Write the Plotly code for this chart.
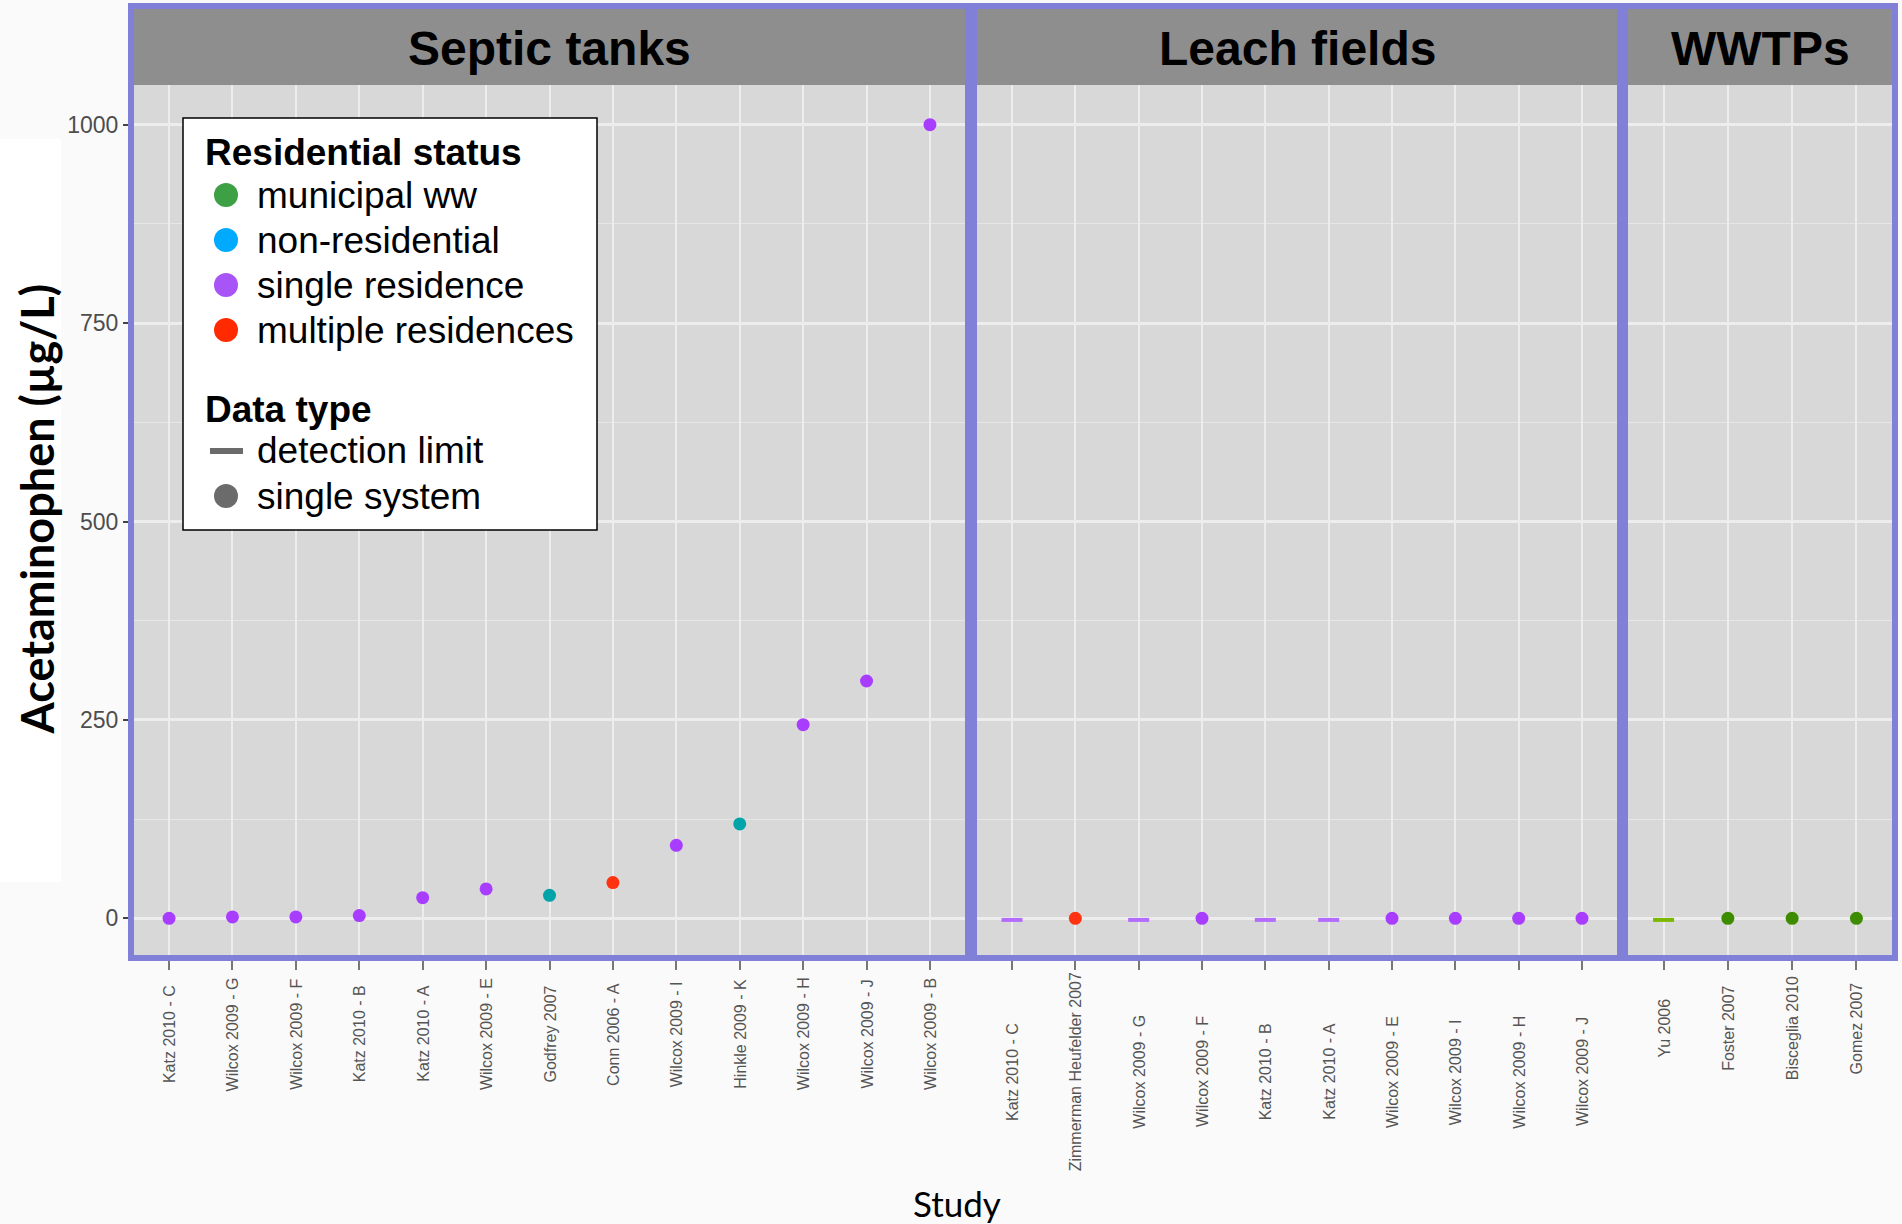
import plotly.graph_objects as go

# ---------------- data ----------------
septic_studies = ["Katz 2010 - C", "Wilcox 2009 - G", "Wilcox 2009 - F", "Katz 2010 - B",
                  "Katz 2010 - A", "Wilcox 2009 - E", "Godfrey 2007", "Conn 2006 - A",
                  "Wilcox 2009 - I", "Hinkle 2009 - K", "Wilcox 2009 - H", "Wilcox 2009 - J",
                  "Wilcox 2009 - B"]
septic_values = [0, 1.7, 1.7, 3.4, 26, 37, 29, 45, 92, 119, 244, 299, 1000]
septic_status = ["single residence"] * 6 + ["non-residential", "multiple residences",
                 "single residence", "non-residential", "single residence",
                 "single residence", "single residence"]
septic_type = ["single system"] * 13

leach_studies = ["Katz 2010 - C", "Zimmerman Heufelder 2007", "Wilcox 2009 - G",
                 "Wilcox 2009 - F", "Katz 2010 - B", "Katz 2010 - A", "Wilcox 2009 - E",
                 "Wilcox 2009 - I", "Wilcox 2009 - H", "Wilcox 2009 - J"]
leach_values = [-2, 0, -2, 0, -2, -2, 0, 0, 0, 0]
leach_status = ["single residence", "multiple residences"] + ["single residence"] * 8
leach_type = ["detection limit", "single system", "detection limit", "single system",
              "detection limit", "detection limit", "single system", "single system",
              "single system", "single system"]

wwtp_studies = ["Yu 2006", "Foster 2007", "Bisceglia 2010", "Gomez 2007"]
wwtp_values = [-2, 0, 0, 0]
wwtp_status = ["municipal ww"] * 4
wwtp_type = ["detection limit", "single system", "single system", "single system"]

panel_titles = ["Septic tanks", "Leach fields", "WWTPs"]
y_ticks = [0, 250, 500, 750, 1000]

legend_title_status = "Residential status"
legend_status = ["municipal ww", "non-residential", "single residence", "multiple residences"]
legend_title_type = "Data type"
legend_type = ["detection limit", "single system"]

# ---------------- styles ----------------
point_colors = {"single residence": "#A83DFF", "non-residential": "#00A3A8",
                "multiple residences": "#FF3311", "municipal ww": "#3D8C00"}
dash_colors = {"single residence": "#B46CFF", "municipal ww": "#7CB800",
               "multiple residences": "#FF3311", "non-residential": "#00A3A8"}
legend_colors = {"municipal ww": "#3DA045", "non-residential": "#00AAFF",
                 "single residence": "#A855F7", "multiple residences": "#FF2A00"}
GRAY = "#6B6B6B"
FONT = "Liberation Sans"

W, H = 1902, 1224
L, R, T, B = 131, 7, 85, 266
PW, PH = W - L - R, H - T - B


def px_x(p):
    return (p - L) / PW


def px_y(p):
    return (H - B - p) / PH


panel_px = [(131, 968), (974, 1620), (1625, 1895)]
label_center_px = [1034, 1072, 1028]
domains = [[px_x(a), px_x(b)] for a, b in panel_px]

fig = go.Figure()

panels = [
    (septic_studies, septic_values, septic_status, septic_type),
    (leach_studies, leach_values, leach_status, leach_type),
    (wwtp_studies, wwtp_values, wwtp_status, wwtp_type),
]

for i, (studies, vals, stat, typ) in enumerate(panels):
    ax = "" if i == 0 else str(i + 1)
    combos = []
    for s, t in zip(stat, typ):
        if (s, t) not in combos:
            combos.append((s, t))
    for s, t in combos:
        xs = [st for st, ss, tt in zip(studies, stat, typ) if ss == s and tt == t]
        ys = [v for v, ss, tt in zip(vals, stat, typ) if ss == s and tt == t]
        if t == "single system":
            marker = dict(symbol="circle", size=13, color=point_colors[s], line=dict(width=0))
        else:
            marker = dict(symbol="line-ew", size=15, color=dash_colors[s],
                          line=dict(width=4, color=dash_colors[s]))
        fig.add_trace(go.Scatter(x=xs, y=ys, mode="markers", marker=marker,
                                 xaxis="x" + ax, yaxis="y" + ax, showlegend=False,
                                 name=s + " / " + t, hoverinfo="x+y"))

grid = "#EDEDED"
annotations = []
for i, (studies, *_r) in enumerate(panels):
    ax = "" if i == 0 else str(i + 1)
    n = len(studies)
    fig.layout["xaxis" + ax] = dict(
        domain=domains[i], anchor="y" + ax, type="category",
        categoryorder="array", categoryarray=studies, range=[-0.6, n - 0.4],
        showgrid=True, gridcolor=grid, gridwidth=2, zeroline=False,
        ticks="outside", ticklen=11, tickwidth=2, tickcolor="#777777",
        showticklabels=False, showline=False, fixedrange=True)
    fig.layout["yaxis" + ax] = dict(
        domain=[0, 1], anchor="x" + ax, range=[-50, 1050],
        tickvals=y_ticks, ticktext=[str(v) for v in y_ticks],
        showgrid=True, gridcolor=grid, gridwidth=2.5, zeroline=False,
        minor=dict(tickvals=[125, 375, 625, 875], showgrid=True, gridcolor="#E6E6E6",
                   gridwidth=1.2, ticks=""),
        ticks="outside" if i == 0 else "", ticklen=7, tickwidth=1.5, tickcolor="#444444",
        showticklabels=(i == 0),
        tickfont=dict(family=FONT, size=23, color="#4D4D4D"),
        showline=False, fixedrange=True)
    # centred, rotated category labels
    for k, st in enumerate(studies):
        annotations.append(dict(text=st, xref="x" + ax, yref="paper", x=k,
                                y=px_y(label_center_px[i]), textangle=-90,
                                xanchor="center", yanchor="middle", showarrow=False,
                                font=dict(family=FONT, size=16, color="#555555")))

shapes = []
# white box behind y title
shapes.append(dict(type="rect", xref="paper", yref="paper", x0=px_x(0), x1=px_x(61),
                   y0=px_y(882), y1=px_y(139), fillcolor="white", line=dict(width=0),
                   layer="below"))
for i, (a, b) in enumerate(panel_px):
    shapes.append(dict(type="rect", xref="paper", yref="paper", x0=px_x(a), x1=px_x(b),
                       y0=1, y1=px_y(6), fillcolor="#8E8E8E", line=dict(width=0),
                       layer="above"))
    shapes.append(dict(type="rect", xref="paper", yref="paper", x0=px_x(a), x1=px_x(b),
                       y0=0, y1=px_y(6), fillcolor="rgba(0,0,0,0)",
                       line=dict(color="#8080D8", width=6), layer="above"))
    annotations.append(dict(text="<b>" + panel_titles[i] + "</b>", xref="paper", yref="paper",
                            x=px_x((a + b) / 2), y=px_y(49), xanchor="center", yanchor="middle",
                            showarrow=False,
                            font=dict(family=FONT, size=48, color="black")))

# ---------------- legend (drawn as layout decoration) ----------------
LEG_BOX = (183, 118, 597, 530)
shapes.append(dict(type="rect", xref="paper", yref="paper",
                   x0=px_x(LEG_BOX[0]), x1=px_x(LEG_BOX[2]),
                   y0=px_y(LEG_BOX[3]), y1=px_y(LEG_BOX[1]),
                   fillcolor="white", line=dict(color="black", width=1.5), layer="above"))
SYM_X, TXT_X, TITLE_X, ROW = 226, 255, 203, 45
RAD = 12


def leg_text(txt, xpx, ypx, bold=False):
    annotations.append(dict(text=("<b>" + txt + "</b>") if bold else txt,
                            xref="paper", yref="paper", x=px_x(xpx), y=px_y(ypx),
                            xanchor="left", yanchor="middle", showarrow=False,
                            font=dict(family=FONT, size=37, color="black")))


def leg_circle(color, ypx):
    shapes.append(dict(type="circle", xref="paper", yref="paper",
                       x0=px_x(SYM_X - RAD), x1=px_x(SYM_X + RAD),
                       y0=px_y(ypx + RAD), y1=px_y(ypx - RAD),
                       fillcolor=color, line=dict(width=0), layer="above"))


y0_status = 153
leg_text(legend_title_status, TITLE_X, y0_status, bold=True)
for k, s in enumerate(legend_status):
    yy = y0_status + 42 + k * ROW
    leg_circle(legend_colors[s], yy)
    leg_text(s, TXT_X, yy)

y0_type = 409
leg_text(legend_title_type, TITLE_X, y0_type, bold=True)
for k, t in enumerate(legend_type):
    yy = y0_type + 42 + k * ROW
    if t == "detection limit":
        shapes.append(dict(type="line", xref="paper", yref="paper",
                           x0=px_x(SYM_X - 16), x1=px_x(SYM_X + 17),
                           y0=px_y(yy), y1=px_y(yy),
                           line=dict(color=GRAY, width=6), layer="above"))
    else:
        leg_circle(GRAY, yy)
    leg_text(t, TXT_X, yy)

annotations.append(dict(text="<b>Acetaminophen (µg/L)</b>", xref="paper", yref="paper",
                        x=px_x(37), y=px_y(420 * 1.213), xanchor="center", yanchor="middle",
                        textangle=-90, showarrow=False,
                        font=dict(family="Lato", size=45, color="black")))
annotations.append(dict(text="Study", xref="paper", yref="paper",
                        x=px_x(957), y=px_y(1203), xanchor="center", yanchor="middle",
                        showarrow=False, font=dict(family="Lato", size=35, color="black")))

fig.update_layout(
    width=W, height=H, margin=dict(l=L, r=R, t=T, b=B, autoexpand=False),
    paper_bgcolor="#FAFAFA", plot_bgcolor="#D8D8D8",
    shapes=shapes, annotations=annotations, showlegend=False,
)

fig.write_html("out.html")
